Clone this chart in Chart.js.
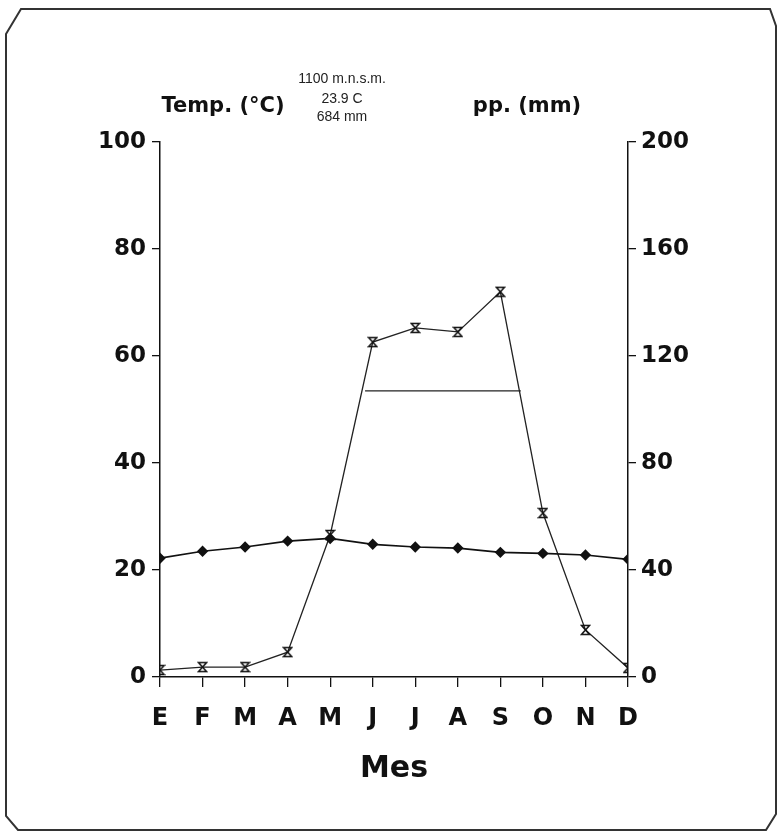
<!DOCTYPE html>
<html><head><meta charset="utf-8">
<script src="https://cdn.jsdelivr.net/npm/chart.js@4"></script>
<style>html,body{margin:0;padding:0;background:#fff}canvas{display:block}</style>
</head><body>
<canvas id="c" width="778" height="834"></canvas>
<script>
const months = ['E','F','M','A','M','J','J','A','S','O','N','D'];
const temperature = [22.2,23.5,24.3,25.4,25.9,24.8,24.3,24.1,23.3,23.1,22.8,22.0];
const precipitation = [2.6,3.7,3.7,9.3,53.1,125.2,130.5,129.0,144.0,61.3,17.6,3.4];
const rainySeasonX = [4.82, 8.48];
const rainySeasonLevel = [107, 107];
const tempTicks = [0,20,40,60,80,100];
const ppTicks = [0,40,80,120,160,200];
const headerLines = ['1100 m.n.s.m.','23.9 C','684 mm'];
const leftTitle = 'Temp. (°C)';
const rightTitle = 'pp. (mm)';
const xTitle = 'Mes';

const INK = '#111';

// hourglass marker
const hg = document.createElement('canvas');
hg.width = 11; hg.height = 12;
(function(){
  const g = hg.getContext('2d');
  g.strokeStyle = INK; g.lineWidth = 1.5;
  g.beginPath();
  g.moveTo(1.5,1.5); g.lineTo(9.5,1.5); g.lineTo(1.5,10.5); g.lineTo(9.5,10.5); g.closePath();
  g.stroke();
})();

const framePlugin = {
  id: 'frame',
  beforeDraw(chart) {
    const ctx = chart.ctx;
    ctx.save();
    ctx.fillStyle = '#fff';
    ctx.fillRect(0,0,chart.width,chart.height);
    ctx.strokeStyle = '#333';
    ctx.lineWidth = 2;
    ctx.beginPath();
    ctx.moveTo(6,34); ctx.lineTo(21,9); ctx.lineTo(770,9); ctx.lineTo(776,26);
    ctx.lineTo(776,814); ctx.lineTo(766,830);
    ctx.lineTo(18,830); ctx.lineTo(6,816);
    ctx.closePath();
    ctx.stroke();
    ctx.restore();
  },
  afterDraw(chart) {
    const ctx = chart.ctx;
    ctx.save();
    ctx.fillStyle = INK;
    ctx.textAlign = 'center';
    ctx.textBaseline = 'middle';
    ctx.font = 'bold 21px "DejaVu Sans"';
    ctx.fillText(leftTitle, 223, 107);
    ctx.fillText(rightTitle, 527, 107);
    ctx.fillStyle = '#222';
    ctx.font = '14px "Liberation Sans"';
    const ys = [79, 99, 117];
    headerLines.forEach((t,i)=>ctx.fillText(t, 342, ys[i]));
    ctx.restore();
  }
};

const tickFont = {family:'DejaVu Sans', weight:'bold', size:23};

new Chart(document.getElementById('c'), {
  type: 'line',
  data: {
    datasets: [
      {
        label: 'Temperatura',
        data: temperature.map((v,i)=>({x:i,y:v})),
        yAxisID: 'y',
        borderColor: INK, backgroundColor: INK,
        borderWidth: 1.7,
        pointStyle: 'rectRot', pointRadius: 4.5,
        tension: 0
      },
      {
        label: 'Precipitación',
        data: precipitation.map((v,i)=>({x:i,y:v})),
        yAxisID: 'y1',
        borderColor: '#222', backgroundColor: INK,
        borderWidth: 1.3,
        pointStyle: hg,
        tension: 0
      },
      {
        label: 'Época de lluvias',
        data: rainySeasonX.map((x,i)=>({x:x,y:rainySeasonLevel[i]})),
        yAxisID: 'y1',
        borderColor: '#222',
        borderWidth: 1.3,
        pointRadius: 0,
        tension: 0
      }
    ]
  },
  options: {
    responsive: false,
    devicePixelRatio: 1,
    animation: false,
    layout: { padding: { top: 142, left: 0, right: 0, bottom: 0 } },
    plugins: { legend: {display:false}, tooltip: {enabled:false} },
    scales: {
      x: {
        type: 'linear', min: 0, max: 11,
        afterBuildTicks: s => { s.ticks = months.map((m,i)=>({value:i})); },
        afterFit: s => { s.height = 834 - 677; },
        ticks: { callback: v => months[v], font: {family:'DejaVu Sans', weight:'bold', size:24}, color: INK, padding: 17, maxRotation: 0, autoSkip: false },
        grid: { drawOnChartArea: false, drawTicks: true, tickLength: 10, color: INK, lineWidth: 1.3 },
        border: { display: true, color: INK, width: 1.5 },
        title: { display: true, text: xTitle, color: INK, font: {family:'DejaVu Sans', weight:'bold', size:30}, padding: {top:0, bottom:47} }
      },
      y: {
        type: 'linear', position: 'left', min: 0, max: 100,
        afterBuildTicks: s => { s.ticks = tempTicks.map(v=>({value:v})); },
        afterFit: s => { s.width = 160; },
        ticks: { font: tickFont, color: INK, padding: 6 },
        grid: { drawOnChartArea: false, drawTicks: true, tickLength: 8, color: INK, lineWidth: 1.3 },
        border: { display: true, color: INK, width: 1.5 }
      },
      y1: {
        type: 'linear', position: 'right', min: 0, max: 200,
        afterBuildTicks: s => { s.ticks = ppTicks.map(v=>({value:v})); },
        afterFit: s => { s.width = 778 - 628; },
        ticks: { font: tickFont, color: INK, padding: 5 },
        grid: { drawOnChartArea: false, drawTicks: true, tickLength: 8, color: INK, lineWidth: 1.3 },
        border: { display: true, color: INK, width: 1.5 }
      }
    }
  },
  plugins: [framePlugin]
});
</script>
</body></html>
